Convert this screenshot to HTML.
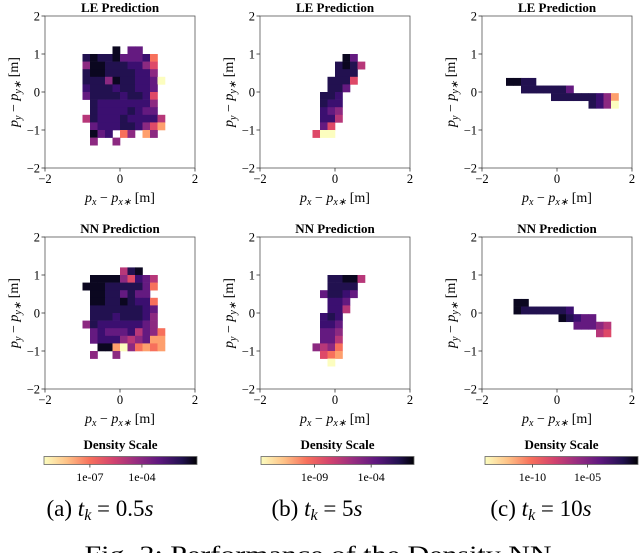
<!DOCTYPE html>
<html><head><meta charset="utf-8"><style>
body{margin:0;background:#fff}
svg{display:block;font-family:"Liberation Serif",serif}
</style></head><body>
<svg id="fig" width="640" height="553" viewBox="0 0 640 553" xmlns="http://www.w3.org/2000/svg">
<defs>
<linearGradient id="magr" x1="0" x2="1" y1="0" y2="0">
<stop offset="0" stop-color="#fcfdbf"/><stop offset="0.15" stop-color="#fec287"/><stop offset="0.3" stop-color="#f7705c"/><stop offset="0.45" stop-color="#d3436e"/><stop offset="0.6" stop-color="#982d80"/><stop offset="0.75" stop-color="#5f187f"/><stop offset="0.9" stop-color="#221150"/><stop offset="1" stop-color="#000004"/>
</linearGradient>
</defs>
<g id="panels"></g>
<g id="cbars"></g>
<text x="100" y="516" font-size="23" text-anchor="middle">(a) <tspan font-style="italic">t<tspan font-size="16" dy="4">k</tspan></tspan><tspan dy="-4"> = 0.5</tspan><tspan font-style="italic">s</tspan></text>
<text x="317" y="516" font-size="23" text-anchor="middle">(b) <tspan font-style="italic">t<tspan font-size="16" dy="4">k</tspan></tspan><tspan dy="-4"> = 5</tspan><tspan font-style="italic">s</tspan></text>
<text x="541" y="516" font-size="23" text-anchor="middle">(c) <tspan font-style="italic">t<tspan font-size="16" dy="4">k</tspan></tspan><tspan dy="-4"> = 10</tspan><tspan font-style="italic">s</tspan></text>
<text x="318" y="562" font-size="23" text-anchor="middle" textLength="467" lengthAdjust="spacingAndGlyphs">Fig. 2: Performance of the Density NN</text>
</svg>
<script>
// cell grids: digits = density level (0 darkest/highest ... 9 lightest), '.' empty
const aLE = ["....0.33...","1011033327.","4001112246.","1001111224.","11140112239","2111211223.","3111121126.",".122222224.",".122221233.","51222122225",".3222112468",".032.74.84.",".4..4......"];
const aNN = [".....510...",".000046235.","0001111137.",".00113133..",".001101227.",".111111123.",".111211124.","4122222234.",".3233325347",".3222454388","..008947878",".4..4......"];
const bLE = ["....03","...1015","...111.","..1116","..113",".112",".122",".234",".225",".36","699"];
const bNN = ["..11005","..1111",".31123","..223","..225",".212",".223",".334",".335","4547",".678","..9"];
const cLE = ["0011","..1111113","......111111248","...........1249"];
const cNN = ["00","01111112","......01233","........33345","...........56"];
const grids = [aLE, bLE, cLE, aNN, bNN, cNN];
const originsX = [-1.0, -0.6, -1.36, -1.0, -0.6, -1.16];
const originsY = [1.2, 1.0, 0.37, 1.2, 1.0, 0.37];
const titles = ["LE Prediction","LE Prediction","LE Prediction","NN Prediction","NN Prediction","NN Prediction"];
const ticks = [-2, 0, 2];
const cbTicksA = ["1e-07","1e-04"], cbTicksB = ["1e-09","1e-04"], cbTicksC = ["1e-10","1e-05"];
const cbTickPos = [[0.3,0.64],[0.35,0.72],[0.31,0.67]];
const colors = ["#0b0720","#221150","#3b0f70","#641a80","#8c2981","#b73779","#de4968","#f7705c","#fe9f6d","#fcfdbf"];
const CELL = 0.2;

const NS = "http://www.w3.org/2000/svg";
const root = document.getElementById('panels');
const axLeft = [45, 260, 482], axTop = [16, 237], W = 150, H = 152;
function mk(tag, attrs, parent){const e=document.createElementNS(NS,tag);for(const k in attrs)e.setAttribute(k,attrs[k]);parent.appendChild(e);return e;}

grids.forEach((g, i) => {
  const col = i % 3, row = Math.floor(i / 3);
  const L = axLeft[col], T = axTop[row];
  const sx = v => L + (v + 2) / 4 * W;
  const sy = v => T + (2 - v) / 4 * H;
  const grp = mk('g', {}, root);
  
  
  g.forEach((line, r) => {
    [...line].forEach((ch, c) => {
      if (ch === '.') return;
      const x0 = originsX[i] + c * CELL, y0 = originsY[i] - r * CELL;
      const rect = mk('rect', {x: sx(x0), y: sy(y0), width: sx(x0 + CELL) - sx(x0) + 0.3, height: sy(y0 - CELL) - sy(y0) + 0.3, fill: colors[+ch]}, grp);
      
      
    });
  });
  const frame = mk('rect', {x: L, y: T, width: W, height: H, fill: 'none', stroke: '#555', 'stroke-width': 0.8}, grp);
  
  
  ticks.forEach(t => {
    mk('line', {x1: sx(t), x2: sx(t), y1: T + H, y2: T + H + 3.5, stroke: '#333', 'stroke-width': 0.8}, grp);
    const xl = mk('text', {x: sx(t), y: T + H + 15, 'font-size': 12.5, 'text-anchor': 'middle'}, grp);
    xl.textContent = t < 0 ? '\u2212' + (-t) : String(t);
    
    
    mk('line', {x1: L - 3.5, x2: L, y1: sy(t), y2: sy(t), stroke: '#333', 'stroke-width': 0.8}, grp);
    const yl = mk('text', {x: L - 5, y: sy(t) + 4.5, 'font-size': 12.5, 'text-anchor': 'end'}, grp);
    yl.textContent = t < 0 ? '\u2212' + (-t) : String(t);
    
    
  });
  [-1, 1].forEach(t => {
    mk('line', {x1: L - 3.5, x2: L, y1: sy(t), y2: sy(t), stroke: '#333', 'stroke-width': 0.8}, grp);
    const yl = mk('text', {x: L - 5, y: sy(t) + 4.5, 'font-size': 12.5, 'text-anchor': 'end'}, grp);
    yl.textContent = t < 0 ? '\u2212' + (-t) : String(t);
    
    
  });
  const tt = mk('text', {x: L + W / 2, y: T - 4, 'font-size': 13, 'font-weight': 'bold', 'text-anchor': 'middle'}, grp);
  tt.textContent = titles[i];
  
  
  const xa = mk('text', {x: L + W / 2, y: T + H + 34, 'font-size': 14, 'text-anchor': 'middle'}, grp);
  xa.innerHTML = '<tspan font-style="italic">p<tspan font-size="10" dy="3">x</tspan></tspan><tspan dy="-3"> \u2212 </tspan><tspan font-style="italic">p<tspan font-size="10" dy="3">x\u2217</tspan></tspan><tspan dy="-3"> [m]</tspan>';
  
  
  const ya = mk('text', {x: 0, y: 0, 'font-size': 14, 'text-anchor': 'middle', transform: `translate(${L - 27},${T + H / 2}) rotate(-90)`}, grp);
  ya.innerHTML = '<tspan font-style="italic">p<tspan font-size="10" dy="3">y</tspan></tspan><tspan dy="-3"> \u2212 </tspan><tspan font-style="italic">p<tspan font-size="10" dy="3">y\u2217</tspan></tspan><tspan dy="-3"> [m]</tspan>';
  
  
});

const cb = document.getElementById('cbars');
const cbX = [44, 261, 485], cbW = 153;
const cbLabels = [cbTicksA, cbTicksB, cbTicksC];
cbX.forEach((x, k) => {
  const t = mk('text', {x: x + cbW / 2, y: 449, 'font-size': 13, 'font-weight': 'bold', 'text-anchor': 'middle'}, cb);
  t.textContent = 'Density Scale';
  
  
  const r = mk('rect', {x: x, y: 456.5, width: cbW, height: 8, fill: 'url(#magr)', stroke: '#666', 'stroke-width': 0.8}, cb);
  
  
  cbLabels[k].forEach((lab, j) => {
    const px = x + cbTickPos[k][j] * cbW;
    mk('line', {x1: px, x2: px, y1: 464.5, y2: 467.5, stroke: '#333', 'stroke-width': 0.8}, cb);
    const tl = mk('text', {x: px, y: 481, 'font-size': 12, 'text-anchor': 'middle'}, cb);
    tl.textContent = lab;
    
    
  });
});
</script>
</body></html>
